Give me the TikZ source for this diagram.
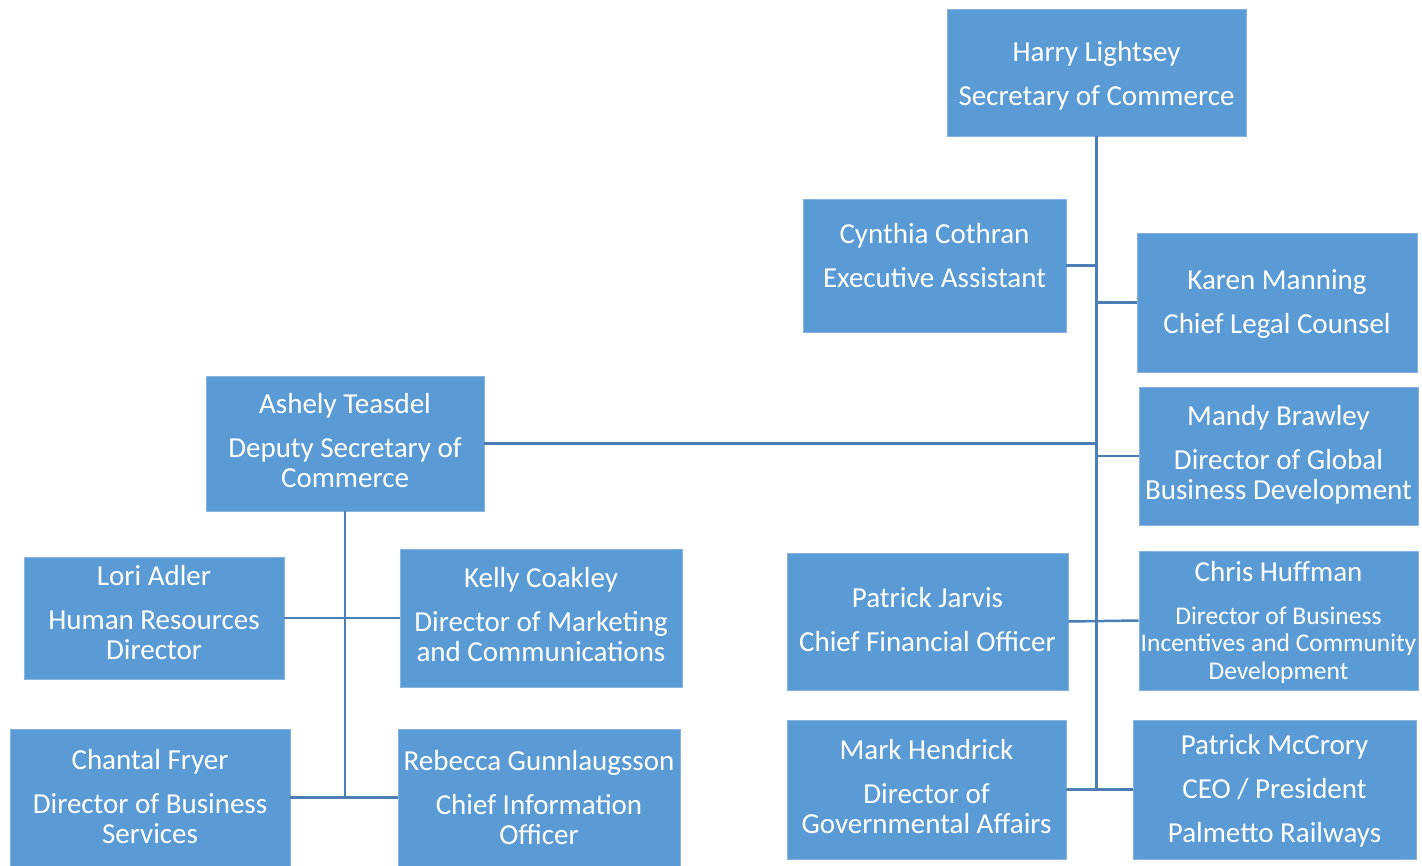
\documentclass[tikz,border=0pt]{standalone}
\usepackage{fontspec}
\setmainfont{Carlito}
\definecolor{boxblue}{HTML}{5B9BD5}
\definecolor{edgeblue}{HTML}{86B4E0}
\definecolor{linkblue}{HTML}{4A7EB5}
\newcommand{\namefont}{\fontsize{29}{30}\selectfont}
\newcommand{\smallfont}{\fontsize{25.5}{27.5}\selectfont}
\begin{document}
\begin{tikzpicture}[x=1pt, y=-1pt,
    box/.style={rectangle, fill=boxblue, draw=edgeblue, line width=0.8pt, inner sep=0pt},
    txt/.style={text=white, align=center, inner sep=0pt, font=\namefont},
    link/.style={draw=linkblue, line width=2.5pt}]
    \useasboundingbox (0,0) rectangle (1422,866);
    % top level
    \node[box, minimum width=299, minimum height=127,
          label={[txt, yshift=-3pt]center:{Harry Lightsey\\[14pt]Secretary of Commerce}}] (harry) at (1096.5, 72.5) {};
    \node[box, minimum width=263, minimum height=133,
          label={[txt, yshift=10pt]center:{Cynthia Cothran\\[14pt]Executive Assistant}}] (cynthia) at (934.5, 265.5) {};
    \node[box, minimum width=280, minimum height=139,
          label={[txt, yshift=-2pt]center:{Karen Manning\\[14pt]Chief Legal Counsel}}] (karen) at (1277, 302.5) {};
    \node[box, minimum width=279, minimum height=138,
          label={[txt, yshift=1pt]center:{Mandy Brawley\\[14pt]Director of Global\\Business Development}}] (mandy) at (1278.5, 456) {};
    \node[box, minimum width=278, minimum height=135,
          label={[txt, yshift=3pt]center:{Ashely Teasdel\\[14pt]Deputy Secretary of\\Commerce}}] (ashely) at (345, 443.5) {};
    \node[box, minimum width=281, minimum height=137,
          label={[txt, yshift=2pt]center:{Patrick Jarvis\\[14pt]Chief Financial Officer}}] (jarvis) at (927.5, 621.5) {};
    \node[box, minimum width=279, minimum height=139,
          label={[txt, yshift=-2pt]center:{Chris Huffman\\[13pt]\smallfont Director of Business\\[-3pt]\smallfont Incentives and Community\\[-2pt]\smallfont Development}}] (chris) at (1278.5, 620.5) {};
    \node[box, minimum width=279, minimum height=139,
          label={[txt, yshift=3pt]center:{Mark Hendrick\\[14pt]Director of\\Governmental Affairs}}] (mark) at (926.5, 789.5) {};
    \node[box, minimum width=283, minimum height=139,
          label={[txt, yshift=-1pt]center:{Patrick McCrory\\[14pt]CEO / President\\[14pt]Palmetto Railways}}] (mccrory) at (1274.5, 789.5) {};
    % deputy's team
    \node[box, minimum width=260, minimum height=122,
          label={[txt, yshift=5pt]center:{Lori Adler\\[14pt]Human Resources\\Director}}] (lori) at (154, 618) {};
    \node[box, minimum width=282, minimum height=138,
          label={[txt, yshift=3pt]center:{Kelly Coakley\\[14pt]Director of Marketing\\and Communications}}] (kelly) at (541, 618) {};
    \node[box, minimum width=280, minimum height=137,
          label={[txt, yshift=1pt]center:{Chantal Fryer\\[14pt]Director of Business\\Services}}] (chantal) at (150, 797.5) {};
    \node[box, minimum width=282, minimum height=137,
          label={[txt]center:{Rebecca Gunnlaugsson\\[14pt]Chief Information\\Officer}}] (rebecca) at (539, 797.5) {};
    % connectors
    \draw[link] (harry.south) -- (harry.south |- mark.east);
    \draw[link] (cynthia.east) -- (cynthia.east -| harry.south);
    \draw[link] (karen.west) -- (karen.west -| harry.south);
    \draw[link] (ashely.east) -- (ashely.east -| harry.south);
    \draw[link] (mandy.west) -- (mandy.west -| harry.south);
    \draw[link] (jarvis.east) -- (chris.west);
    \draw[link] (mark.east) -- (mccrory.west);
    \draw[link] (ashely.south) -- (ashely.south |- chantal.east);
    \draw[link] (lori.east) -- (kelly.west);
    \draw[link] (chantal.east) -- (rebecca.west);
\end{tikzpicture}
\end{document}
